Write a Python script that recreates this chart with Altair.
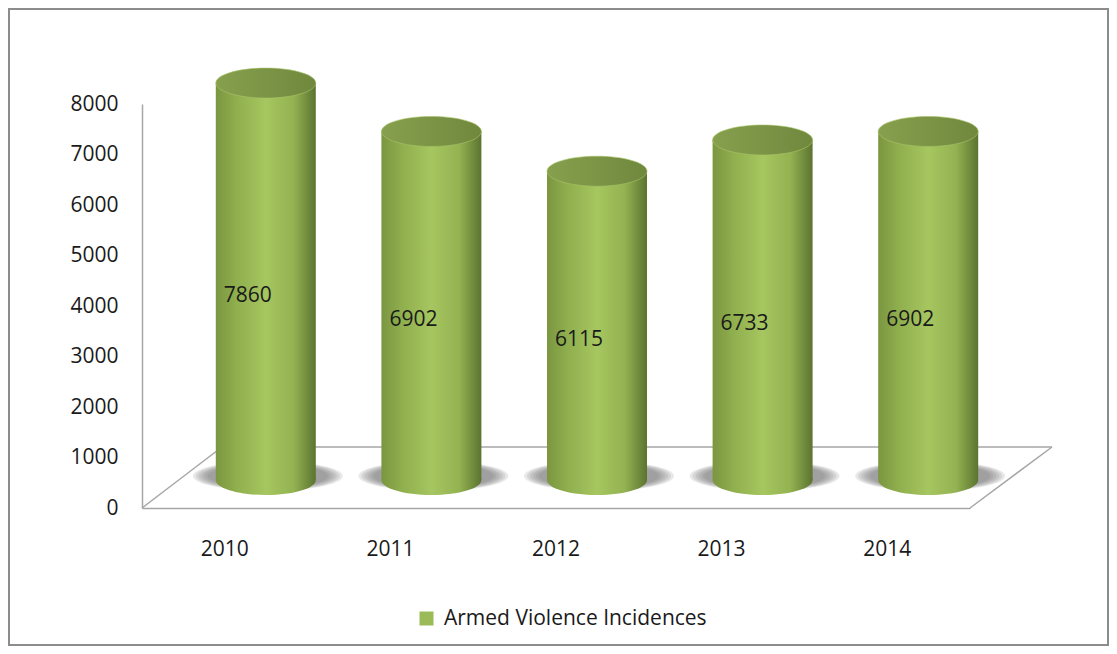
import altair as alt
import pandas as pd

years = ["2010", "2011", "2012", "2013", "2014"]
values = [7860, 6902, 6115, 6733, 6902]
series_name = "Armed Violence Incidences"
y_ticks = [0, 1000, 2000, 3000, 4000, 5000, 6000, 7000, 8000]

df = pd.DataFrame({"year": years, "value": values, "series": [series_name] * len(years)})
one = pd.DataFrame({"k": [0]})

FONT = "Open Sans"
FS = 21
TXT = "#1a1a1a"
GRID = "#A6A6A6"

ELLIPSE = ("M -1 0 C -1 -0.1657 -0.5523 -0.3 0 -0.3 C 0.5523 -0.3 1 -0.1657 1 0 "
           "C 1 0.1657 0.5523 0.3 0 0.3 C -0.5523 0.3 -1 0.1657 -1 0 Z")
SHADOW = ("M -1 0 C -1 -0.11 -0.5523 -0.2 0 -0.2 C 0.5523 -0.2 1 -0.11 1 0 "
          "C 1 0.11 0.5523 0.2 0 0.2 C -0.5523 0.2 -1 0.11 -1 0 Z")

body_grad = alt.LinearGradient(
    gradient="linear", x1=0, x2=1, y1=0, y2=0,
    stops=[alt.GradientStop(offset=0, color="#7a9640"),
           alt.GradientStop(offset=0.2, color="#8fae4d"),
           alt.GradientStop(offset=0.5, color="#a6c660"),
           alt.GradientStop(offset=0.78, color="#93b251"),
           alt.GradientStop(offset=1, color="#5b7430")])
top_grad = alt.LinearGradient(
    gradient="linear", x1=0, x2=1, y1=0, y2=0,
    stops=[alt.GradientStop(offset=0, color="#87a04e"),
           alt.GradientStop(offset=1, color="#6f883d")])

XOFF = 41
YOFF = -28

x_axis = alt.X("year:N", scale=alt.Scale(paddingInner=0, paddingOuter=0),
               axis=alt.Axis(title=None, labelAngle=0, labelFont=FONT, labelFontSize=FS,
                             labelColor=TXT, labelPadding=30, ticks=False, grid=False,
                             domainColor=GRID, domainWidth=1.5))
x_plain = alt.X("year:N")
y_axis = alt.Y("value:Q", scale=alt.Scale(domain=[0, 8000], nice=False),
               axis=alt.Axis(title=None, values=y_ticks, format="d", labelFont=FONT,
                             labelFontSize=FS, labelColor=TXT, labelPadding=24, ticks=False,
                             grid=False, domainColor=GRID, domainWidth=1.5))

base = alt.Chart(df)

frame = alt.Chart(one).mark_rect(fillOpacity=0, stroke="#8c8c8c", strokeWidth=2).encode(
    x=alt.value(-133), x2=alt.value(966), y=alt.value(-95), y2=alt.value(541))

floor_back = alt.Chart(one).mark_rule(color=GRID, strokeWidth=1.5).encode(
    x=alt.value(80), x2=alt.value(910), y=alt.value(343), y2=alt.value(343))
floor_left = alt.Chart(one).mark_rule(color=GRID, strokeWidth=1.5).encode(
    x=alt.value(0), x2=alt.value(80), y=alt.value(404), y2=alt.value(343))
floor_right = alt.Chart(one).mark_rule(color=GRID, strokeWidth=1.5).encode(
    x=alt.value(828), x2=alt.value(910), y=alt.value(404), y2=alt.value(343))

legend_layer = base.mark_square(size=196, opacity=0).encode(
    x=x_axis, y=y_axis,
    color=alt.Color("series:N", scale=alt.Scale(range=["#9BBB59"]),
                    legend=alt.Legend(title=None, orient="none", legendX=274, legendY=504,
                                      symbolType="square", symbolSize=196, symbolOpacity=1,
                                      symbolStrokeWidth=0, labelFont=FONT, labelFontSize=FS,
                                      labelColor=TXT, labelLimit=500, labelOffset=7)))

shadows = []
for w in [150, 144, 138, 132, 126, 120]:
    shadows.append(base.mark_point(shape=SHADOW, size=w ** 2, filled=True, color="#6e6e6e",
                                   opacity=0.16, strokeWidth=0, xOffset=XOFF + 2,
                                   yOffset=YOFF - 4).encode(x=x_plain, y=alt.datum(0)))

bottom_cap = base.mark_point(shape=ELLIPSE, size=100 ** 2, filled=True, fill=body_grad,
                             opacity=1, strokeWidth=0, xOffset=XOFF,
                             yOffset=YOFF).encode(x=x_plain, y=alt.datum(0))

body = base.mark_bar(size=100, fill=body_grad, xOffset=XOFF, x2Offset=XOFF,
                     yOffset=YOFF, y2Offset=YOFF).encode(
    x=x_plain, y=alt.Y("value:Q"), y2=alt.datum(0))

top_cap = base.mark_point(shape=ELLIPSE, size=100 ** 2, filled=True, fill=top_grad,
                          opacity=1, stroke="#a9c46a", strokeWidth=0.6, xOffset=XOFF,
                          yOffset=YOFF).encode(x=x_plain, y=alt.Y("value:Q"))

labels = base.transform_calculate(half="datum.value / 2").mark_text(
    font=FONT, fontSize=FS, color=TXT, dx=23, dy=-14).encode(
    x=x_plain, y=alt.Y("half:Q"), text=alt.Text("value:Q", format="d"))

chart = alt.layer(
    frame, floor_back, floor_left, floor_right, legend_layer,
    *shadows, bottom_cap, body, top_cap, labels
).properties(
    width=828, height=404,
    padding={"left": 134, "right": 139, "top": 96, "bottom": 138},
    autosize=alt.AutoSizeParams(type="none"),
    background="white",
).configure_view(stroke=None)

chart.save("out.html", embed_options={"renderer": "svg", "actions": False})
